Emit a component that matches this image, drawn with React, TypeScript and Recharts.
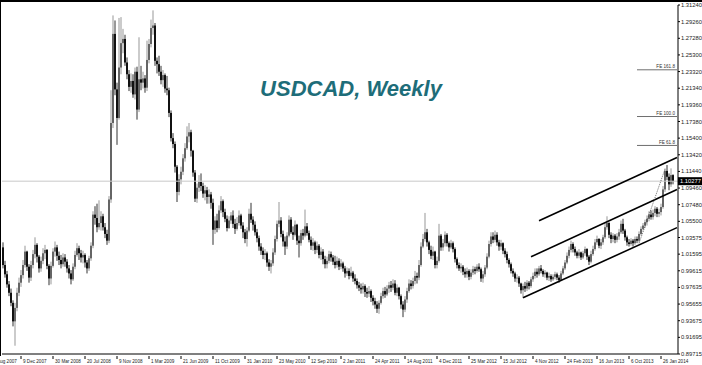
import { ComposedChart, Bar, XAxis, YAxis, ReferenceLine } from "recharts";

// weekly USDCAD, first bar = week of 7 Oct 2007
const firstOpen = 1.024;

const closes = [
  1.0030, 0.9920, 0.9800, 0.9700, 0.9580, 0.9360, 0.9520, 0.9700, 0.9820, 0.9910,
  1.0030, 1.0190, 1.0010, 0.9880, 1.0030, 1.0160, 1.0270, 1.0130, 0.9990, 1.0080,
  1.0170, 1.0210, 1.0020, 0.9870, 1.0020, 1.0190, 1.0240, 1.0140, 1.0090, 1.0040,
  1.0120, 1.0070, 0.9990, 0.9930, 0.9860, 1.0010, 1.0150, 1.0230, 1.0170, 1.0120,
  1.0150, 1.0060, 0.9990, 1.0110, 1.0260, 1.0630, 1.0590, 1.0480, 1.0530, 1.0610,
  1.0480, 1.0400, 1.0320, 1.0810, 1.1720, 1.2780, 1.2120, 1.1780, 1.2380, 1.2670,
  1.2720, 1.2440, 1.2300, 1.2150, 1.2220, 1.2060, 1.2330, 1.1880, 1.2240, 1.2200,
  1.2250, 1.2140, 1.2470, 1.2660, 1.2850, 1.2880, 1.2460, 1.2420, 1.2330, 1.2230,
  1.2290, 1.2130, 1.2110, 1.1840, 1.1540, 1.1470, 1.1200, 1.0900, 1.1050, 1.1140,
  1.1300, 1.1420, 1.1560, 1.1610, 1.1390, 1.1130, 1.0820, 1.0950, 1.1020, 1.0970,
  1.0880, 1.0920, 1.0840, 1.0870, 1.0770, 1.0450, 1.0560, 1.0470, 1.0680, 1.0790,
  1.0660, 1.0580, 1.0470, 1.0560, 1.0620, 1.0520, 1.0460, 1.0530, 1.0620, 1.0500,
  1.0420, 1.0340, 1.0440, 1.0640, 1.0570, 1.0510, 1.0420, 1.0350, 1.0250, 1.0200,
  1.0150, 1.0170, 1.0060, 1.0010, 1.0050, 1.0180, 1.0340, 1.0520, 1.0560, 1.0400,
  1.0310, 1.0250, 1.0380, 1.0570, 1.0420, 1.0390, 1.0510, 1.0320, 1.0290, 1.0410,
  1.0380, 1.0490, 1.0410, 1.0330, 1.0260, 1.0300, 1.0210, 1.0260, 1.0150, 1.0190,
  1.0100, 1.0040, 1.0080, 1.0160, 1.0120, 1.0070, 1.0030, 1.0080, 1.0010, 1.0050,
  0.9990, 0.9930, 0.9960, 0.9900, 0.9940, 0.9870, 0.9840, 0.9790, 0.9760, 0.9740,
  0.9780, 0.9710, 0.9690, 0.9720, 0.9640, 0.9600, 0.9560, 0.9510, 0.9580, 0.9660,
  0.9720, 0.9680, 0.9750, 0.9790, 0.9760, 0.9810, 0.9700, 0.9760, 0.9660, 0.9560,
  0.9500, 0.9620, 0.9720, 0.9810, 0.9780, 0.9840, 0.9900, 0.9880, 1.0030, 1.0250,
  1.0340, 1.0420, 1.0300, 1.0210, 1.0140, 1.0190, 1.0030, 1.0080, 1.0380, 1.0240,
  1.0290, 1.0390, 1.0290, 1.0240, 1.0290, 1.0220, 1.0100, 1.0030, 0.9990, 1.0010,
  0.9950, 0.9920, 0.9960, 0.9890, 0.9940, 0.9980, 0.9960, 1.0010, 0.9980, 0.9870,
  0.9920, 1.0000, 1.0130, 1.0280, 1.0370, 1.0330, 1.0390, 1.0300, 1.0250, 1.0290,
  1.0200, 1.0160, 1.0090, 1.0040, 0.9960, 0.9930, 0.9870, 0.9880, 0.9810, 0.9730,
  0.9780, 0.9750, 0.9820, 0.9780, 0.9860, 0.9900, 0.9950, 0.9920, 0.9990, 0.9960,
  0.9920, 0.9940, 0.9880, 0.9900, 0.9860, 0.9890, 0.9920, 0.9880, 0.9850, 0.9930,
  0.9990, 1.0060, 1.0140, 1.0210, 1.0280, 1.0220, 1.0180, 1.0140, 1.0180, 1.0120,
  1.0170, 1.0220, 1.0130, 1.0070, 1.0160, 1.0220, 1.0300, 1.0340, 1.0260, 1.0300,
  1.0360, 1.0480, 1.0530, 1.0390, 1.0340, 1.0380, 1.0330, 1.0370, 1.0420, 1.0520,
  1.0440, 1.0360, 1.0300, 1.0280, 1.0320, 1.0290, 1.0340, 1.0320, 1.0400, 1.0460,
  1.0500, 1.0540, 1.0580, 1.0630, 1.0600, 1.0650, 1.0700, 1.0640, 1.0660, 1.0720,
  1.0930, 1.1150, 1.1080, 1.0990, 1.1100, 1.1028,
];

const highs = [
  1.0300, 1.0080, 0.9960, 0.9840, 0.9750, 0.9610, 0.9580, 0.9760, 0.9880, 0.9970,
  1.0090, 1.0260, 1.0200, 1.0040, 1.0080, 1.0210, 1.0360, 1.0290, 1.0150, 1.0130,
  1.0230, 1.0270, 1.0220, 1.0040, 1.0070, 1.0230, 1.0310, 1.0270, 1.0190, 1.0150,
  1.0170, 1.0160, 1.0100, 1.0030, 0.9970, 1.0050, 1.0200, 1.0290, 1.0260, 1.0210,
  1.0200, 1.0170, 1.0090, 1.0140, 1.0300, 1.0670, 1.0730, 1.0760, 1.0800, 1.0670,
  1.0640, 1.0530, 1.0450, 1.0850, 1.2110, 1.3000, 1.2940, 1.2200, 1.2970, 1.2980,
  1.2840, 1.2770, 1.2500, 1.2350, 1.2310, 1.2300, 1.2380, 1.2390, 1.2740, 1.2400,
  1.2330, 1.2290, 1.2700, 1.2720, 1.2950, 1.3060, 1.2910, 1.2500, 1.2520, 1.2400,
  1.2350, 1.2310, 1.2280, 1.2140, 1.1870, 1.1600, 1.1500, 1.1220, 1.1110, 1.1200,
  1.1350, 1.1480, 1.1680, 1.1720, 1.1640, 1.1400, 1.1160, 1.1000, 1.1100, 1.1120,
  1.1010, 1.0980, 1.0960, 1.0930, 1.0900, 1.0820, 1.0610, 1.0640, 1.0740, 1.0850,
  1.0810, 1.0700, 1.0620, 1.0610, 1.0660, 1.0680, 1.0580, 1.0600, 1.0680, 1.0640,
  1.0540, 1.0460, 1.0480, 1.0700, 1.0770, 1.0610, 1.0550, 1.0460, 1.0380, 1.0290,
  1.0240, 1.0220, 1.0190, 1.0100, 1.0090, 1.0230, 1.0380, 1.0560, 1.0780, 1.0600,
  1.0440, 1.0370, 1.0420, 1.0620, 1.0600, 1.0490, 1.0560, 1.0520, 1.0380, 1.0450,
  1.0460, 1.0690, 1.0530, 1.0440, 1.0370, 1.0350, 1.0320, 1.0310, 1.0280, 1.0240,
  1.0220, 1.0140, 1.0130, 1.0200, 1.0190, 1.0150, 1.0140, 1.0130, 1.0110, 1.0100,
  1.0070, 1.0020, 1.0000, 0.9990, 1.0010, 0.9960, 0.9920, 0.9870, 0.9830, 0.9810,
  0.9820, 0.9800, 0.9760, 0.9780, 0.9740, 0.9670, 0.9640, 0.9600, 0.9610, 0.9700,
  0.9760, 0.9770, 0.9790, 0.9830, 0.9840, 0.9860, 0.9850, 0.9800, 0.9770, 0.9680,
  0.9600, 0.9660, 0.9760, 0.9860, 0.9850, 0.9880, 0.9960, 0.9940, 1.0090, 1.0300,
  1.0400, 1.0650, 1.0460, 1.0320, 1.0260, 1.0250, 1.0200, 1.0130, 1.0520, 1.0400,
  1.0340, 1.0430, 1.0410, 1.0310, 1.0330, 1.0310, 1.0240, 1.0120, 1.0060, 1.0050,
  1.0030, 0.9990, 1.0000, 0.9980, 0.9980, 1.0020, 1.0010, 1.0040, 1.0050, 1.0000,
  0.9960, 1.0030, 1.0170, 1.0320, 1.0420, 1.0420, 1.0440, 1.0420, 1.0330, 1.0330,
  1.0300, 1.0230, 1.0190, 1.0110, 1.0060, 0.9990, 0.9950, 0.9920, 0.9900, 0.9820,
  0.9810, 0.9830, 0.9850, 0.9840, 0.9890, 0.9940, 0.9990, 0.9990, 1.0020, 1.0030,
  0.9980, 0.9970, 0.9950, 0.9940, 0.9920, 0.9920, 0.9950, 0.9940, 0.9910, 0.9960,
  1.0020, 1.0090, 1.0180, 1.0250, 1.0320, 1.0300, 1.0250, 1.0200, 1.0220, 1.0190,
  1.0200, 1.0250, 1.0230, 1.0150, 1.0200, 1.0260, 1.0340, 1.0380, 1.0350, 1.0340,
  1.0390, 1.0530, 1.0610, 1.0540, 1.0420, 1.0410, 1.0400, 1.0410, 1.0460, 1.0560,
  1.0580, 1.0460, 1.0380, 1.0340, 1.0350, 1.0340, 1.0370, 1.0370, 1.0430, 1.0490,
  1.0530, 1.0570, 1.0620, 1.0670, 1.0680, 1.0690, 1.0730, 1.0720, 1.0700, 1.0760,
  1.0970, 1.1180, 1.1220, 1.1120, 1.1180, 1.1110,
];

const lows = [
  0.9990, 0.9880, 0.9760, 0.9660, 0.9540, 0.9300, 0.9070, 0.9480, 0.9660, 0.9770,
  0.9870, 1.0000, 0.9960, 0.9820, 0.9840, 0.9990, 1.0110, 1.0060, 0.9940, 0.9950,
  1.0040, 1.0100, 0.9980, 0.9790, 0.9800, 1.0000, 1.0130, 1.0080, 1.0030, 0.9990,
  1.0010, 1.0010, 0.9940, 0.9870, 0.9800, 0.9840, 0.9980, 1.0130, 1.0090, 1.0060,
  1.0050, 1.0000, 0.9930, 0.9960, 1.0080, 1.0230, 1.0510, 1.0420, 1.0450, 1.0440,
  1.0440, 1.0350, 1.0270, 1.0290, 1.0770, 1.1660, 1.2050, 1.1460, 1.1760, 1.2300,
  1.2550, 1.2400, 1.2240, 1.2100, 1.2080, 1.2020, 1.2000, 1.1760, 1.1850, 1.2110,
  1.2130, 1.2080, 1.2100, 1.2430, 1.2620, 1.2770, 1.2400, 1.2310, 1.2280, 1.2180,
  1.2150, 1.2080, 1.2050, 1.1790, 1.1500, 1.1420, 1.1130, 1.0780, 1.0860, 1.0990,
  1.1100, 1.1260, 1.1400, 1.1490, 1.1320, 1.1080, 1.0780, 1.0770, 1.0900, 1.0910,
  1.0830, 1.0800, 1.0760, 1.0760, 1.0700, 1.0270, 1.0400, 1.0420, 1.0450, 1.0650,
  1.0600, 1.0540, 1.0430, 1.0460, 1.0520, 1.0470, 1.0400, 1.0440, 1.0500, 1.0460,
  1.0350, 1.0290, 1.0250, 1.0420, 1.0530, 1.0440, 1.0380, 1.0300, 1.0200, 1.0150,
  1.0100, 1.0090, 1.0010, 0.9960, 0.9930, 1.0020, 1.0150, 1.0310, 1.0480, 1.0360,
  1.0250, 1.0150, 1.0220, 1.0360, 1.0400, 1.0330, 1.0370, 1.0270, 1.0120, 1.0260,
  1.0330, 1.0360, 1.0380, 1.0300, 1.0210, 1.0200, 1.0160, 1.0170, 1.0110, 1.0090,
  1.0040, 0.9990, 0.9990, 1.0050, 1.0070, 1.0030, 0.9990, 1.0000, 0.9970, 0.9980,
  0.9950, 0.9880, 0.9900, 0.9860, 0.9880, 0.9830, 0.9800, 0.9750, 0.9720, 0.9690,
  0.9690, 0.9650, 0.9640, 0.9650, 0.9590, 0.9550, 0.9510, 0.9460, 0.9450, 0.9560,
  0.9630, 0.9640, 0.9660, 0.9700, 0.9710, 0.9730, 0.9670, 0.9660, 0.9620, 0.9510,
  0.9410, 0.9470, 0.9580, 0.9700, 0.9740, 0.9750, 0.9800, 0.9810, 0.9850, 1.0010,
  1.0230, 1.0310, 1.0250, 1.0160, 1.0100, 1.0090, 0.9990, 0.9990, 1.0060, 1.0200,
  1.0200, 1.0250, 1.0250, 1.0190, 1.0220, 1.0180, 1.0060, 0.9990, 0.9960, 0.9940,
  0.9910, 0.9880, 0.9880, 0.9850, 0.9860, 0.9910, 0.9920, 0.9940, 0.9950, 0.9830,
  0.9820, 0.9890, 0.9980, 1.0110, 1.0250, 1.0290, 1.0300, 1.0260, 1.0200, 1.0210,
  1.0160, 1.0120, 1.0050, 1.0000, 0.9930, 0.9890, 0.9830, 0.9820, 0.9770, 0.9690,
  0.9640, 0.9710, 0.9720, 0.9740, 0.9760, 0.9830, 0.9870, 0.9880, 0.9900, 0.9930,
  0.9890, 0.9880, 0.9850, 0.9840, 0.9830, 0.9840, 0.9860, 0.9850, 0.9820, 0.9840,
  0.9910, 0.9970, 1.0040, 1.0110, 1.0180, 1.0180, 1.0140, 1.0110, 1.0110, 1.0090,
  1.0100, 1.0140, 1.0090, 1.0030, 1.0050, 1.0140, 1.0200, 1.0270, 1.0230, 1.0220,
  1.0270, 1.0340, 1.0450, 1.0350, 1.0290, 1.0300, 1.0290, 1.0300, 1.0330, 1.0400,
  1.0400, 1.0320, 1.0260, 1.0250, 1.0260, 1.0250, 1.0270, 1.0290, 1.0300, 1.0380,
  1.0440, 1.0470, 1.0500, 1.0550, 1.0570, 1.0570, 1.0610, 1.0600, 1.0600, 1.0620,
  1.0700, 1.0900, 1.1040, 1.0920, 1.0960, 1.0990,
];

const lastPrice = 1.10277;

const priceTicks = [
  1.3124, 1.2926, 1.2728, 1.253, 1.2332, 1.2134, 1.1936, 1.1738, 1.154, 1.1342, 1.1144,
  1.0946, 1.0748, 1.055, 1.03575, 1.01595, 0.99615, 0.97635, 0.95655, 0.93675, 0.91695, 0.89715,
];

const dateLabels = [
  "9 Dec 2007", "30 Mar 2008", "20 Jul 2008", "9 Nov 2008", "1 Mar 2009", "21 Jun 2009",
  "11 Oct 2009", "31 Jan 2010", "23 May 2010", "12 Sep 2010", "2 Jan 2011", "24 Apr 2011",
  "14 Aug 2011", "4 Dec 2011", "25 Mar 2012", "15 Jul 2012", "4 Nov 2012", "24 Feb 2013",
  "16 Jun 2013", "6 Oct 2013", "26 Jan 2014",
];
const dateIdx = [9, 25, 41, 57, 73, 89, 105, 121, 137, 153, 169, 185, 201, 217, 233, 249, 265, 281, 297, 313, 329];
const cutLabel = "19 Aug 2007";

// channel lines: [start bar, start price, end bar, end price]
const channels = [
  [268, 1.0557, 337, 1.131],
  [264, 1.0128, 337, 1.0928],
  [260, 0.964, 337, 1.0475],
];
const dottedLine = [318, 1.0289, 331, 1.1171];

const feNames = ["FE 161.8", "FE 100.0", "FE 61.8"];
const feLevels = [1.2353, 1.1797, 1.1453];

const EMPTY_BARS = 2;

const rows: any[] = closes.map((c, i) => {
  const o = i === 0 ? firstOpen : closes[i - 1];
  const h = Math.max(highs[i], o, c);
  const l = Math.min(lows[i], o, c);
  return { i, open: o, close: c, high: h, low: l, range: [l, h] };
});
for (let k = 0; k < EMPTY_BARS; k++) rows.push({ i: closes.length + k, range: null });

const FONT = "'Liberation Sans', Arial, sans-serif";

// eslint-disable-next-line @typescript-eslint/no-explicit-any
const Candle = (props: any) => {
  const { x, y, width, height, payload } = props;
  if (!payload || payload.close == null) return <g />;
  const { open, close, high, low } = payload;
  const top = Math.min(y, y + height);
  const span = Math.abs(height);
  const k = high > low ? span / (high - low) : 0;
  const py = (v: number) => top + (high - v) * k;
  const cx = x + width / 2;
  const up = close >= open;
  const b1 = py(Math.max(open, close));
  const b2 = py(Math.min(open, close));
  return (
    <g>
      <line x1={cx} x2={cx} y1={top} y2={top + span} stroke={up ? "#979797" : "#333"} strokeWidth={1} />
      <rect x={cx - 1} y={b1} width={2} height={Math.max(0.8, b2 - b1)} fill={up ? "#656565" : "#111"} />
    </g>
  );
};

// eslint-disable-next-line @typescript-eslint/no-explicit-any
const DateTick = (props: any) => {
  const { x, y, payload } = props;
  const k = dateIdx.indexOf(payload.value);
  if (k < 0) return <g />;
  return (
    <g>
      <line x1={x} x2={x} y1={y} y2={y + 3} stroke="#000" strokeWidth={1} />
      <text x={x + 2} y={y + 7} fontSize={4.6} fill="#222" fontFamily={FONT}>{dateLabels[k]}</text>
      {k === 0 && (
        <g>
          <line x1={x - 32} x2={x - 32} y1={y} y2={y + 3} stroke="#000" strokeWidth={1} />
          <text x={x - 30} y={y + 7} fontSize={4.6} fill="#222" fontFamily={FONT}>{cutLabel}</text>
        </g>
      )}
    </g>
  );
};

export default function App() {
  return (
    <div style={{ position: "absolute", left: 0, top: 0, width: 702, height: 365, background: "#fff", overflow: "hidden" }}>
      <ComposedChart width={702} height={365} data={rows} margin={{ top: 5, right: 0, bottom: 0, left: 2 }} barCategoryGap={0} barGap={0}>
        <XAxis
          dataKey="i"
          type="category"
          ticks={dateIdx}
          interval={0}
          height={11}
          tickLine={false}
          tickSize={0}
          tick={<DateTick />}
          axisLine={{ stroke: "#000" }}
        />
        <YAxis
          orientation="right"
          width={24}
          domain={[0.89715, 1.3124]}
          allowDataOverflow
          ticks={priceTicks}
          interval={0}
          tickSize={2}
          tickMargin={1}
          tickFormatter={(v: number) => v.toFixed(5)}
          tick={{ fontSize: 5.8, fill: "#222", fontFamily: FONT }}
          axisLine={{ stroke: "#000" }}
          tickLine={{ stroke: "#000" }}
        />
        <ReferenceLine
          y={lastPrice}
          stroke="#c8c8c8"
          strokeWidth={1}
          label={(p: any) => {
            const vb = p.viewBox;
            return (
              <g>
                <rect x={vb.x + vb.width} y={vb.y - 4} width={24} height={8} fill="#000" />
                <text x={vb.x + vb.width + 2} y={vb.y + 2.2} fontSize={5.8} fill="#fff" fontFamily={FONT}>
                  {lastPrice.toFixed(5)}
                </text>
              </g>
            );
          }}
        />
        {feLevels.map((lv, k) => (
          <ReferenceLine
            key={feNames[k]}
            segment={[{ x: 317, y: lv }, { x: 337, y: lv }]}
            stroke="#6e6e6e"
            strokeWidth={1}
            label={(p: any) => {
              const vb = p.viewBox;
              return (
                <text x={vb.x + vb.width - 2} y={vb.y - 1.5} textAnchor="end" fontSize={4.6} fill="#333" fontFamily={FONT}>
                  {feNames[k]}
                </text>
              );
            }}
          />
        ))}
        {channels.map((c, k) => (
          <ReferenceLine
            key={k}
            segment={[{ x: c[0], y: c[1] }, { x: c[2], y: c[3] }]}
            stroke="#000"
            strokeWidth={1.6}
          />
        ))}
        <ReferenceLine
          segment={[{ x: dottedLine[0], y: dottedLine[1] }, { x: dottedLine[2], y: dottedLine[3] }]}
          stroke="#444"
          strokeWidth={0.8}
          strokeDasharray="1 1"
        />
        <Bar dataKey="range" shape={<Candle />} isAnimationActive={false} />
      </ComposedChart>
      <svg width={702} height={365} style={{ position: "absolute", left: 0, top: 0, pointerEvents: "none" }}>
        <text x={351} y={96} textAnchor="middle" fontSize={22} fontWeight="bold" fontStyle="italic" fill="#1e6d79" fontFamily={FONT}>
          USDCAD, Weekly
        </text>
      </svg>
      <div style={{ position: "absolute", left: 0, top: 0, width: 702, height: 2, background: "#000" }} />
      <div style={{ position: "absolute", left: 0, top: 0, width: 1, height: 356, background: "#000" }} />
    </div>
  );
}
